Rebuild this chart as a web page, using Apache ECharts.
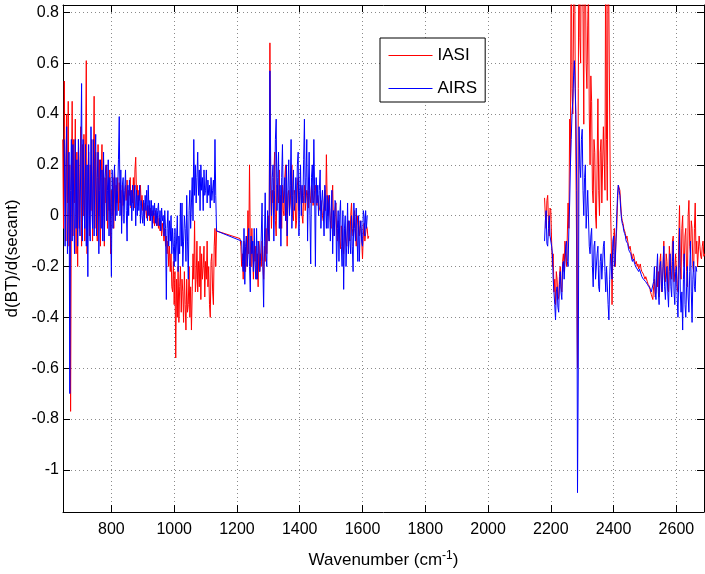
<!DOCTYPE html>
<html><head><meta charset="utf-8">
<style>html,body{margin:0;padding:0;background:#fff}#c{width:705px;height:574px}</style>
<script src="https://cdn.jsdelivr.net/npm/echarts@6/dist/echarts.min.js"></script>
</head><body><div id="c"></div>
<script>
// Sampling grids (cm^-1): start of each spectral band, common step
const iasiA_start = 645, iasiB_start = 1210, iasiC_start = 2180;
const airsA_start = 650, airsB_start = 1215, airsC_start = 2180;
const gridStep = 2.5;

// IASI d(BT)/d(secant)  (rows of 10 samples = 25 cm^-1)
const iasiA = [
 0.30, -0.05, 0.53, 0.10, -0.10, 0.40, 0.05, 0.45, -0.12, 0.20,
 -0.77, 0.10, 0.45, -0.08, 0.30, 0.05, 0.38, -0.15, 0.25, -0.20,
 0.30, -0.05, 0.20, 0.35, -0.12, 0.28, 0.00, 0.32, -0.10, 0.22,
 0.61, -0.15, 0.15, 0.25, -0.08, 0.20, 0.02, 0.30, -0.10, 0.18,
 0.47, -0.05, 0.25, 0.05, -0.10, 0.28, 0.00, 0.22, -0.12, 0.15,
 0.28, 0.00, 0.22, -0.12, 0.15, 0.05, 0.20, -0.05, 0.12, 0.02,
 0.18, -0.15, 0.10, 0.00, 0.15, -0.05, 0.18, 0.02, 0.12, 0.05,
 0.15, 0.02, 0.13, 0.05, 0.10, -0.02, 0.12, 0.04, 0.08, 0.06,
 0.12, 0.06, 0.14, 0.04, 0.10, 0.08, 0.15, 0.03, 0.10, 0.05,
 0.15, 0.03, 0.18, 0.23, 0.08, 0.12, 0.04, 0.10, 0.06, 0.12,
 0.04, 0.08, 0.02, 0.06, -0.02, 0.05, 0.03, -0.01, 0.04, 0.00,
 0.04, -0.02, 0.03, 0.00, 0.02, -0.03, 0.01, -0.04, 0.02, -0.02,
 -0.04, 0.00, -0.05, -0.01, -0.06, -0.02, -0.08, -0.03, -0.06, -0.10,
 -0.05, -0.12, -0.08, -0.15, -0.10, -0.20, -0.12, -0.22, -0.15, -0.28,
 -0.30, -0.18, -0.35, -0.22, -0.56, -0.25, -0.40, -0.20, -0.42, -0.28,
 -0.20, -0.38, -0.25, -0.30, -0.42, -0.22, -0.35, -0.45, -0.25, -0.38,
 -0.35, -0.20, -0.40, -0.28, -0.45, -0.30, -0.15, -0.25, -0.02, -0.30,
 -0.25, -0.10, -0.30, -0.18, -0.28, -0.12, -0.33, -0.15, -0.25, -0.20,
 -0.12, -0.32, -0.18, -0.25, -0.10, -0.28, -0.20, -0.35, -0.40, -0.18,
 -0.15, -0.30, -0.35, -0.12, -0.05, -0.20, -0.06
];
const iasiB = [
 -0.09, -0.12, -0.20, -0.15, -0.25, -0.10, -0.18, -0.22, -0.08, -0.20,
 0.02, -0.15, 0.20, -0.10, -0.20, -0.05, -0.15, -0.25, -0.10, -0.18,
 -0.12, -0.25, -0.15, -0.28, -0.10, -0.22, -0.15, -0.20, -0.10, -0.18,
 -0.25, -0.12, -0.18, -0.05, -0.15, -0.02, 0.00, -0.10, 0.68, 0.10,
 -0.05, 0.10, 0.05, 0.15, 0.25, -0.02, -0.08, 0.12, 0.10, 0.05,
 0.18, -0.05, 0.08, -0.05, 0.12, 0.02, 0.00, 0.15, 0.20, 0.05,
 -0.12, 0.08, 0.10, 0.02, 0.05, 0.15, 0.20, 0.00, -0.02, 0.10,
 0.08, -0.05, -0.02, 0.12, 0.15, 0.02, 0.05, 0.12, 0.10, 0.00,
 -0.03, 0.08, 0.12, 0.02, 0.02, 0.10, 0.08, 0.03, 0.15, 0.08,
 0.05, 0.12, 0.10, 0.04, 0.06, 0.10, 0.12, 0.05, 0.04, 0.08,
 0.08, 0.03, 0.02, 0.06, 0.06, 0.00, -0.02, 0.05, 0.10, 0.02,
 0.24, 0.05, 0.00, 0.08, 0.08, -0.02, -0.05, 0.06, 0.12, -0.03,
 -0.08, 0.02, 0.05, -0.06, -0.10, -0.02, -0.05, -0.10, -0.13, -0.04,
 -0.08, -0.12, -0.15, -0.05, -0.05, -0.10, -0.12, -0.03, -0.02, -0.08,
 -0.10, 0.00, 0.05, -0.05, -0.08, 0.00, 0.02, -0.06, -0.12, -0.04,
 0.00, -0.06, -0.08, -0.02, -0.05, -0.10, -0.17, -0.08, -0.03, -0.10,
 -0.10, -0.04, -0.05, -0.09, -0.08
];
const iasiC = [
 0.07, 0.00, -0.05, 0.06, 0.08, -0.02, -0.08, 0.03, 0.02, -0.10,
 -0.20, -0.15, -0.30, -0.25, -0.35, -0.22, -0.25, -0.33, -0.32, -0.24,
 -0.20, -0.28, -0.30, -0.18, -0.15, -0.22, -0.10, -0.15, -0.20, -0.08,
 0.05, -0.05, 0.38, 0.20, 1.20, 0.50, 0.40, 0.80, 1.20, 0.60,
 0.20, -0.20, -0.60, 0.50, 1.20, 0.70, 0.60, 1.20, 1.20, 0.80,
 0.36, 1.20, 1.00, 0.60, 0.50, 0.75, 0.90, 0.40, 0.20, 0.55,
 0.45, 0.10, 0.05, 0.30, 0.25, 0.00, -0.05, 0.20, 0.46, 0.10,
 0.00, 0.25, 0.30, 0.05, 0.05, 0.35, 0.35, 0.10, 1.20, 0.30,
 0.06, 1.20, 1.20, 0.40, 0.05, -0.10, -0.35, -0.15, -0.10, -0.05,
 -0.20, -0.10, -0.05, 0.05, 0.12, 0.11, 0.10, 0.05, 0.00, -0.02,
 -0.03, -0.05, -0.06, -0.07, -0.09, -0.08, -0.10, -0.12, -0.13, -0.12,
 -0.14, -0.16, -0.17, -0.15, -0.16, -0.18, -0.19, -0.18, -0.20, -0.19,
 -0.21, -0.20, -0.19, -0.21, -0.22, -0.22, -0.23, -0.24, -0.25, -0.24,
 -0.24, -0.26, -0.27, -0.27, -0.28, -0.30, -0.31, -0.32, -0.33, -0.28,
 -0.25, -0.32, -0.30, -0.20, -0.28, -0.22, -0.32, -0.18, -0.15, -0.30,
 -0.28, -0.20, -0.10, -0.25, -0.26, -0.15, -0.18, -0.28, -0.30, -0.12,
 -0.12, -0.22, -0.25, -0.10, -0.08, -0.26, -0.22, -0.15, -0.15, -0.28,
 -0.30, -0.10, 0.04, -0.20, -0.25, -0.05, 0.00, -0.18, -0.20, -0.08,
 -0.05, -0.22, -0.28, 0.00, 0.06, -0.12, -0.15, -0.02, -0.05, -0.20,
 -0.22, -0.05, 0.05, -0.15, -0.10, -0.20, -0.20, -0.08, -0.12, -0.16,
 -0.17, -0.12, -0.10, -0.16, -0.15
];

// AIRS d(BT)/d(secant)
const airsA = [
 0.30, -0.12, 0.20, 0.35, -0.15, 0.05, 0.25, -0.70, 0.10, 0.30,
 -0.10, 0.28, 0.05, -0.15, 0.30, -0.05, 0.22, -0.12, 0.30, 0.00,
 -0.08, 0.25, 0.52, -0.10, 0.30, 0.05, -0.05, 0.28, -0.12, 0.20,
 -0.24, 0.28, 0.00, -0.10, 0.35, 0.05, -0.05, 0.30, -0.08, 0.20,
 0.32, -0.08, 0.15, 0.25, -0.15, 0.10, 0.22, -0.05, 0.18, -0.10,
 0.25, -0.10, 0.15, 0.20, -0.02, 0.10, 0.22, -0.08, 0.15, -0.02,
 -0.24, 0.18, -0.05, 0.12, 0.20, -0.02, 0.15, 0.00, 0.10, 0.22,
 0.39, 0.00, 0.18, -0.07, 0.12, 0.15, -0.03, 0.10, 0.18, 0.02,
 -0.10, 0.12, 0.00, 0.14, 0.04, 0.10, -0.02, 0.12, 0.02, 0.08,
 0.12, -0.04, 0.10, 0.00, 0.08, 0.02, 0.12, -0.03, 0.06, 0.00,
 -0.03, 0.06, -0.04, 0.08, 0.02, 0.10, -0.02, 0.12, 0.00, 0.06,
 -0.02, 0.06, -0.05, 0.04, 0.00, 0.05, -0.03, 0.03, -0.04, 0.02,
 0.05, -0.04, 0.02, -0.06, 0.03, -0.02, 0.00, -0.08, 0.02, -0.05,
 -0.33, -0.05, 0.02, -0.12, -0.02, -0.10, 0.00, -0.15, -0.05, -0.12,
 -0.20, -0.05, -0.18, -0.10, 0.00, -0.22, -0.08, -0.15, 0.05, -0.12,
 0.05, -0.20, -0.10, 0.00, -0.05, -0.18, 0.08, -0.10, -0.25, 0.02,
 0.10, -0.05, 0.05, 0.15, -0.02, 0.30, 0.08, 0.20, 0.05, 0.15,
 0.25, 0.08, 0.18, 0.02, 0.20, 0.10, 0.15, 0.02, 0.18, 0.08,
 0.10, 0.18, 0.05, 0.14, 0.08, 0.12, 0.03, 0.15, 0.06, 0.10,
 0.14, 0.05, 0.30, 0.08, -0.06
];
const airsB = [
 -0.10, -0.18, -0.22, -0.05, -0.27, -0.12, -0.08, -0.20, -0.15, -0.05,
 -0.20, -0.30, -0.08, -0.15, -0.10, -0.22, -0.05, -0.18, -0.25, -0.05,
 -0.25, -0.10, -0.12, -0.22, -0.18, -0.08, 0.05, -0.20, -0.36, -0.10,
 0.09, -0.15, -0.20, 0.02, -0.05, -0.10, 0.57, 0.20, 0.00, 0.15,
 0.20, -0.10, 0.10, 0.30, 0.38, 0.02, 0.15, 0.25, -0.05, 0.12,
 -0.12, 0.15, 0.28, 0.05, 0.10, 0.15, -0.02, 0.20, -0.08, 0.10,
 0.22, 0.00, 0.12, 0.30, -0.05, 0.08, 0.18, 0.02, 0.05, 0.15,
 0.05, 0.20, 0.25, -0.08, 0.10, 0.20, 0.00, 0.12, 0.05, 0.22,
 0.38, 0.05, 0.15, 0.30, -0.10, 0.10, 0.25, 0.00, -0.19, 0.15,
 0.20, 0.05, 0.30, 0.10, -0.20, 0.15, 0.05, 0.12, 0.00, 0.10,
 0.18, -0.05, 0.05, 0.10, 0.02, -0.08, 0.12, 0.05, -0.05, 0.08,
 -0.05, 0.05, 0.08, -0.10, 0.00, 0.10, -0.15, 0.02, -0.08, 0.06,
 0.05, -0.22, -0.05, 0.02, -0.18, 0.00, 0.06, -0.12, -0.20, 0.02,
 -0.29, -0.05, 0.00, -0.20, -0.10, 0.05, -0.15, -0.02, -0.10, -0.15,
 0.00, -0.12, -0.22, 0.05, -0.05, -0.10, 0.03, -0.08, -0.18, 0.00,
 -0.18, -0.05, -0.02, -0.10, -0.12, 0.02, 0.00, -0.08, 0.02, -0.05,
 0.00
];
const airsC = [
 -0.10, -0.02, 0.02, -0.11, -0.12, -0.05, 0.00, -0.08, -0.08, -0.12,
 -0.15, -0.25, -0.30, -0.35, -0.41, -0.30, -0.28, -0.36, -0.38, -0.27,
 -0.22, -0.30, -0.33, -0.20, -0.18, -0.25, -0.25, -0.12, -0.10, -0.18,
 -0.20, -0.05, 0.05, 0.20, 0.30, 0.40, 0.45, 0.55, 0.61, 0.50,
 0.40, 0.10, -1.09, -0.60, 0.35, 0.20, 0.15, 0.30, 0.34, 0.10,
 0.00, 0.15, 0.20, -0.05, -0.05, 0.10, 0.10, -0.12, -0.15, -0.08,
 -0.05, -0.20, -0.28, -0.12, -0.10, -0.25, -0.25, -0.15, -0.12, -0.28,
 -0.30, -0.18, -0.15, -0.25, -0.25, -0.12, -0.10, -0.22, -0.30, -0.20,
 -0.20, -0.35, -0.41, -0.25, -0.15, -0.20, -0.25, -0.10, -0.08, -0.20,
 -0.18, -0.10, 0.00, 0.08, 0.12, 0.10, 0.08, 0.03, -0.01, -0.03,
 -0.04, -0.06, -0.07, -0.08, -0.10, -0.10, -0.11, -0.13, -0.14, -0.14,
 -0.15, -0.17, -0.18, -0.17, -0.17, -0.19, -0.20, -0.20, -0.21, -0.21,
 -0.22, -0.21, -0.21, -0.23, -0.24, -0.24, -0.25, -0.25, -0.25, -0.26,
 -0.26, -0.27, -0.27, -0.28, -0.28, -0.29, -0.30, -0.30, -0.30, -0.26,
 -0.20, -0.30, -0.33, -0.22, -0.15, -0.30, -0.35, -0.20, -0.18, -0.28,
 -0.30, -0.20, -0.12, -0.28, -0.33, -0.25, -0.20, -0.30, -0.36, -0.22,
 -0.15, -0.28, -0.32, -0.18, -0.10, -0.30, -0.35, -0.22, -0.20, -0.32,
 -0.40, -0.25, -0.05, -0.30, -0.38, -0.30, -0.45, -0.25, -0.15, -0.35,
 -0.40, -0.28, -0.20, -0.32, -0.38, -0.22, -0.10, -0.30, -0.42, -0.25,
 -0.18, -0.28, -0.30, -0.20, -0.22
];

const xTicks = [800, 1000, 1200, 1400, 1600, 1800, 2000, 2200, 2400, 2600];
const yTicks = [-1, -0.8, -0.6, -0.4, -0.2, 0, 0.2, 0.4, 0.6, 0.8];
const seriesNames = ['IASI', 'AIRS'];
const seriesColors = ['#ff0000', '#0000ff'];

function seg(start, vals) { return vals.map((v, i) => [start + i * gridStep, v]); }
const GAP = [[1900, '-']];
const iasiData = seg(iasiA_start, iasiA).concat(seg(iasiB_start, iasiB), GAP, seg(iasiC_start, iasiC));
const airsData = seg(airsA_start, airsA).concat(seg(airsB_start, airsB), GAP, seg(airsC_start, airsC));

const FONT = 'Liberation Sans, Arial, Helvetica, sans-serif';
const X_MIN = 645.8, X_MAX = 2688, Y_MIN = -1.166, Y_MAX = 0.829;

function mkX(pos, main) {
  return {
    type: 'value', position: pos, min: X_MIN, max: X_MAX,
    axisLine: { show: true, onZero: false, lineStyle: { color: '#000', width: 1 } },
    axisTick: { show: true, inside: true, length: 7, customValues: xTicks, lineStyle: { color: '#000' } },
    axisLabel: { show: main, customValues: xTicks, formatter: v => String(v), color: '#000', fontSize: 16, fontFamily: FONT, margin: 10 },
    splitLine: { show: main, lineStyle: { color: '#8a8a8a', type: [1, 3], width: 1 } },
    name: main ? '{a|Wavenumber (cm}{s|-1}{a|)}' : '',
    nameLocation: 'middle', nameGap: 38,
    nameTextStyle: { rich: { a: { fontSize: 17, fontFamily: FONT, color: '#000' }, s: { fontSize: 12, fontFamily: FONT, color: '#000', verticalAlign: 'top', padding: [0, 0, 9, 0] } } }
  };
}
function mkY(pos, main) {
  return {
    type: 'value', position: pos, min: Y_MIN, max: Y_MAX,
    axisLine: { show: true, onZero: false, lineStyle: { color: '#000', width: 1 } },
    axisTick: { show: true, inside: true, length: 7, customValues: yTicks, lineStyle: { color: '#000' } },
    axisLabel: { show: main, customValues: yTicks, formatter: v => String(v), color: '#000', fontSize: 16, fontFamily: FONT, margin: 4 },
    splitLine: { show: main, lineStyle: { color: '#8a8a8a', type: [1, 3], width: 1 } },
    name: main ? 'd(BT)/d(secant)' : '',
    nameLocation: 'middle', nameGap: 39,
    nameTextStyle: { fontSize: 17, fontFamily: FONT, color: '#000' }
  };
}

const chart = echarts.init(document.getElementById('c'), null, { renderer: 'canvas' });
chart.setOption({
  animation: false,
  backgroundColor: '#fff',
  grid: { left: 63, right: 1, top: 5, bottom: 62, outerBoundsMode: 'none', containLabel: false },
  xAxis: [mkX('bottom', true), mkX('top', false)],
  yAxis: [mkY('left', true), mkY('right', false)],
  legend: {
    data: seriesNames.map((n, i) => ({ name: n, lineStyle: { color: seriesColors[i], width: 1 }, itemStyle: { opacity: 0 } })),
    orient: 'vertical', left: 380, top: 38,
    itemWidth: 44, itemHeight: 16, itemGap: 16,
    padding: [9, 8, 5, 8],
    borderColor: '#000', borderWidth: 1, backgroundColor: '#fff',
    textStyle: { fontSize: 17, fontFamily: FONT, color: '#000' }
  },
  series: [
    { name: seriesNames[0], type: 'line', data: iasiData, xAxisIndex: 0, yAxisIndex: 0, symbol: 'none', showSymbol: false, connectNulls: false,
      lineStyle: { color: seriesColors[0], width: 1 }, itemStyle: { color: seriesColors[0] } },
    { name: seriesNames[1], type: 'line', data: airsData, xAxisIndex: 0, yAxisIndex: 0, symbol: 'none', showSymbol: false, connectNulls: false,
      lineStyle: { color: seriesColors[1], width: 1 }, itemStyle: { color: seriesColors[1] } }
  ]
});
</script>
</body></html>
